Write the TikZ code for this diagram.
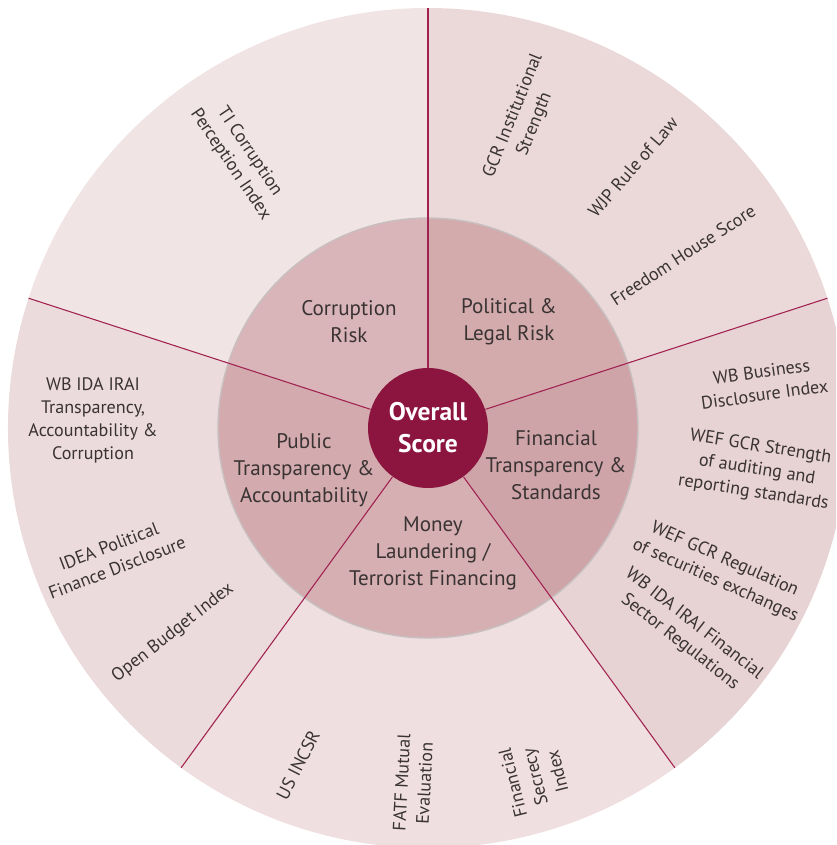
\documentclass[tikz,border=0pt]{standalone}
\usepackage{fontspec}
\setmainfont{PT Sans}
\usetikzlibrary{positioning}

\definecolor{scorered}{HTML}{8C1540}
\definecolor{divred}{HTML}{A02050}
\definecolor{ringgray}{HTML}{C8C0C0}
\definecolor{txtgray}{HTML}{3A3333}
\definecolor{midA}{HTML}{D9B5B9}
\definecolor{midB}{HTML}{D3ABAD}
\definecolor{midC}{HTML}{CFA4A9}
\definecolor{midD}{HTML}{D5AFB1}
\definecolor{midE}{HTML}{D3AAAD}
\definecolor{outA}{HTML}{F0E4E5}
\definecolor{outB}{HTML}{EBD9DA}
\definecolor{outC}{HTML}{E7D2D4}
\definecolor{outD}{HTML}{EFDFE0}
\definecolor{outE}{HTML}{ECDBDC}

\begin{document}
\begin{tikzpicture}[x=0.02cm,y=0.02cm,
  dv/.style={draw=divred,line width=0.6pt},
  pil/.style={text=txtgray,align=center,font=\fontsize{12}{15.4}\selectfont},
  ind/.style={text=txtgray,align=center,font=\fontsize{10.3}{13.1}\selectfont},
  core/.style={circle,fill=scorered,text=white,minimum size=2.4cm,inner sep=0pt,
    align=center,font=\bfseries\fontsize{14.5}{18.2}\selectfont}]
\clip (-428,-417) rectangle (408,428);

% outer and middle rings, one sector each
\foreach \a/\oc/\mc in {90/outB/midB,18/outC/midC,-54/outD/midD,-126/outE/midE,162/outA/midA}{
  \fill[\oc] (0,0) -- (\a:420) arc[start angle=\a,delta angle=-72,radius=420] -- cycle;
  \fill[\mc] (0,0) -- (\a:210) arc[start angle=\a,delta angle=-72,radius=210] -- cycle;
}
\draw[ringgray,line width=0.8pt] (0,0) circle[radius=210];

\node[core] (ov) at (0,0) {Overall\\Score};
\coordinate (e1) at (90:420);
\coordinate (e2) at (18:420);
\coordinate (e3) at (-54:420);
\coordinate (e4) at (-126:420);
\coordinate (e5) at (162:420);
\draw[dv] (ov) -- (e1); \draw[dv] (ov) -- (e2); \draw[dv] (ov) -- (e3);
\draw[dv] (ov) -- (e4); \draw[dv] (ov) -- (e5);

\node[pil] (p1) at (-79,106) {Corruption\\Risk};
\node[pil] (p2) at (81,106) {Political \&\\Legal Risk};
\node[pil] (p3) at (128,-37) {Financial\\Transparency \&\\Standards};
\node[pil] (p4) at (5,-125) {Money\\Laundering /\\Terrorist Financing};
\node[pil] (p5) at (-124,-42) {Public\\Transparency \&\\Accountability};

\node[ind,rotate=-56] (i1) at (-188,270) {TI Corruption\\Perception Index};
\node[ind,rotate=68] (i2) at (96,308) {GCR Institutional\\Strength};
\node[ind,rotate=49] (i3) at (205,261) {WJP Rule of Law};
\node[ind,rotate=33] (i4) at (255,173) {Freedom House Score};
\node[ind,rotate=8] (i5) at (335,45) {WB Business\\Disclosure Index};
\node[ind,rotate=-9] (i6) at (329,-42) {WEF GCR Strength\\of auditing and\\reporting standards};
\node[ind,rotate=-24] (i7) at (292,-142) {WEF GCR Regulation\\of securities exchanges};
\node[ind,rotate=-38] (i8) at (259,-205) {WB IDA IRAI Financial\\Sector Regulations};
\node[ind,rotate=63] (i9) at (-130,-337) {US INCSR};
\node[ind,rotate=87] (i10) at (-15,-355) {FATF Mutual\\Evaluation};
\node[ind,rotate=104] (i11) at (107,-349) {Financial\\Secrecy\\Index};
\node[ind] (i12) at (-335,8) {WB IDA IRAI\\Transparency,\\Accountability \&\\Corruption};
\node[ind,rotate=21] (i13) at (-315,-129) {IDEA Political\\Finance Disclosure};
\node[ind,rotate=38] (i14) at (-255,-205) {Open Budget Index};
\end{tikzpicture}
\end{document}
